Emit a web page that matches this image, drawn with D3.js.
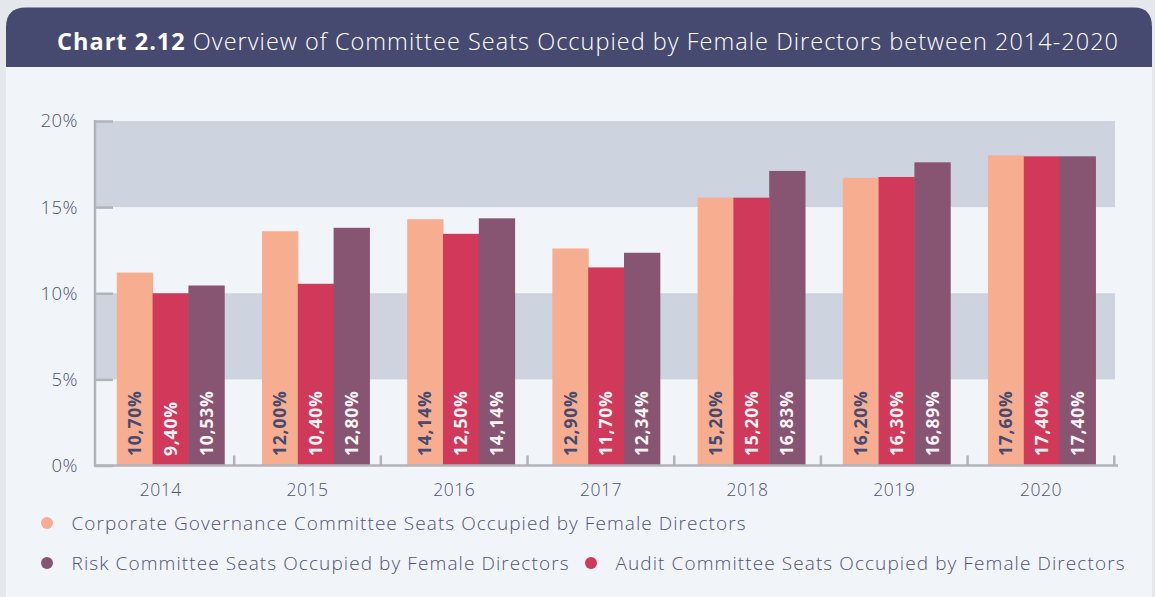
<!DOCTYPE html>
<html>
<head>
<meta charset="utf-8">
<script src="https://cdn.jsdelivr.net/npm/d3@7"></script>
<style>
  body { margin: 0; background: #e4e7ec; }
  svg { display: block; font-family: "Open Sans", Lato, sans-serif; }
  svg text { font-family: "Open Sans", Lato, sans-serif; }
</style>
</head>
<body>
<svg width="1155" height="597"></svg>
<script>
const years = ["2014", "2015", "2016", "2017", "2018", "2019", "2020"];
const seriesNames = [
  "Corporate Governance Committee Seats Occupied by Female Directors",
  "Audit Committee Seats Occupied by Female Directors",
  "Risk Committee Seats Occupied by Female Directors"
];
// bar heights as drawn in the picture (%)
const corporateValues = [11.2, 13.6, 14.3, 12.6, 15.55, 16.7, 18.0];
const auditValues = [10.0, 10.55, 13.45, 11.5, 15.55, 16.75, 17.95];
const riskValues = [10.45, 13.8, 14.35, 12.35, 17.1, 17.6, 17.95];
// value labels as printed on the bars
const corporateLabels = ["10,70%", "12,00%", "14,14%", "12,90%", "15,20%", "16,20%", "17,60%"];
const auditLabels = ["9,40%", "10,40%", "12,50%", "11,70%", "15,20%", "16,30%", "17,40%"];
const riskLabels = ["10,53%", "12,80%", "14,14%", "12,34%", "16,83%", "16,89%", "17,40%"];
const yTicks = [0, 5, 10, 15, 20];

const colors = ["#f7ad8f", "#d0395a", "#875472"];
const labelColors = ["#464a70", "#fbf3f5", "#fbf3f5"];
const textColor = "#4f5279";
const axisColor = "#b2b3b8";

const svg = d3.select("svg");

// panel + header
svg.append("rect").attr("x", 6).attr("y", 30).attr("width", 1146).attr("height", 580).attr("fill", "#f1f5f9");
svg.append("path")
  .attr("d", "M6,67 V27 Q6,7.5 26,7.5 H1134 Q1152,7.5 1152,27 V67 Z")
  .attr("fill", "#474a70");

const title = svg.append("text")
  .attr("x", 57).attr("y", 49.5)
  .attr("fill", "#ffffff")
  .style("font-size", "23.5px");
title.append("tspan").attr("font-weight", 700).text("Chart 2.12");
title.append("tspan").attr("font-weight", 300).text(" Overview of Committee Seats Occupied by Female Directors between 2014-2020");
title.attr("textLength", 1061).attr("lengthAdjust", "spacing");

// scales
// bars
const x0 = d3.scaleBand()
  .domain(years)
  .range([97.9, 1114.3])
  .paddingInner(0.26)
  .paddingOuter(0.13);

const x1 = d3.scaleBand()
  .domain(d3.range(3))
  .range([0, x0.bandwidth()]);

// axis labels and group boundaries
const xCat = d3.scaleBand()
  .domain(years)
  .range([87.5, 1114.3]);

const y = d3.scaleLinear().domain([0, 20]).range([465.5, 121]);

// background bands
[[5, 10], [15, 20]].forEach(([a, b]) => {
  svg.append("rect")
    .attr("x", 95).attr("width", 1115 - 95)
    .attr("y", y(b)).attr("height", y(a) - y(b))
    .attr("fill", "#cdd3df");
});

const valueSets = [corporateValues, auditValues, riskValues];
const labelSets = [corporateLabels, auditLabels, riskLabels];

const rows = [];
years.forEach((yr, i) => {
  valueSets.forEach((vals, s) => {
    rows.push({ year: yr, series: s, value: vals[i], label: labelSets[s][i] });
  });
});

svg.append("g")
  .selectAll("rect")
  .data(rows)
  .join("rect")
  .attr("x", d => x0(d.year) + x1(d.series))
  .attr("width", x1.bandwidth() + 0.5)
  .attr("y", d => y(d.value))
  .attr("height", d => y(0) - y(d.value))
  .attr("fill", d => colors[d.series]);

svg.append("g")
  .selectAll("text")
  .data(rows)
  .join("text")
  .attr("transform", d => {
    const cx = x0(d.year) + x1(d.series) + x1.bandwidth() / 2;
    return `translate(${cx},456) rotate(-90)`;
  })
  .attr("dy", "0.36em")
  .attr("fill", d => labelColors[d.series])
  .attr("font-weight", 700)
  .style("font-size", "17.5px")
  .style("letter-spacing", "0.8px")
  .text(d => d.label);

// axes
const yAxis = d3.axisLeft(y)
  .tickValues(yTicks)
  .tickSize(-18)
  .tickPadding(17)
  .tickFormat(d => d + "%");

const gy = svg.append("g")
  .attr("transform", "translate(95,0)")
  .call(yAxis);
gy.attr("font-family", null);
gy.select(".domain").remove();
gy.selectAll("line").attr("stroke", axisColor).attr("stroke-width", 2.5);
gy.selectAll("text")
  .attr("fill", textColor)
  .attr("font-weight", 300)
  .style("font-size", "18.5px")
  .style("letter-spacing", "0.5px");
gy.append("line")
  .attr("y1", y(20) - 1).attr("y2", y(0) + 1)
  .attr("stroke", axisColor).attr("stroke-width", 2.5);

const xAxis = d3.axisBottom(xCat).tickSize(0).tickPadding(18);
const gx = svg.append("g")
  .attr("transform", `translate(0,${y(0)})`)
  .call(xAxis);
gx.attr("font-family", null);
gx.select(".domain").remove();
gx.selectAll("text")
  .attr("fill", textColor)
  .attr("font-weight", 300)
  .style("font-size", "17.5px")
  .style("letter-spacing", "0.5px");
gx.append("line")
  .attr("x1", 94).attr("x2", 1118)
  .attr("stroke", axisColor).attr("stroke-width", 2.5);

// group boundary ticks
const boundaries = years.slice(1).map(yr => xCat(yr));
boundaries.push(xCat.range()[1]);
gx.selectAll(".bound")
  .data(boundaries)
  .join("line")
  .attr("class", "bound")
  .attr("x1", d => d).attr("x2", d => d)
  .attr("y1", 0).attr("y2", -10)
  .attr("stroke", axisColor).attr("stroke-width", 2.5);

// legend
const legendItems = [
  { s: 0, x: 47, y: 523, width: 674 },
  { s: 2, x: 47, y: 563, width: 497 },
  { s: 1, x: 591, y: 563, width: 509 }
];
const legend = svg.append("g");
legendItems.forEach(item => {
  legend.append("circle")
    .attr("cx", item.x).attr("cy", item.y).attr("r", 6)
    .attr("fill", colors[item.s]);
  legend.append("text")
    .attr("x", item.x + 24.5).attr("y", item.y + 6.5)
    .attr("fill", textColor)
    .attr("font-weight", 300)
    .style("font-size", "19px")
    .attr("textLength", item.width)
    .attr("lengthAdjust", "spacing")
    .text(seriesNames[item.s]);
});
</script>
</body>
</html>
